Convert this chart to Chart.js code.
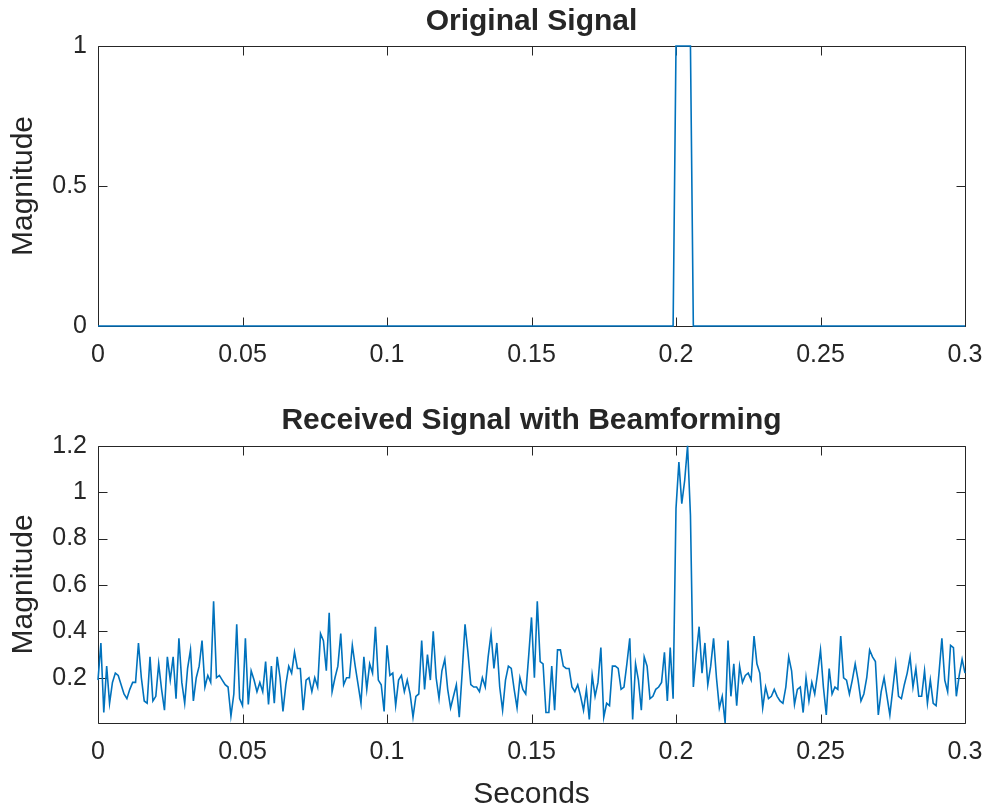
<!DOCTYPE html>
<html><head><meta charset="utf-8">
<script src="https://cdn.jsdelivr.net/npm/chart.js@4.4.1/dist/chart.umd.min.js"></script>
<style>
html,body{margin:0;padding:0;background:#fff;width:986px;height:808px;overflow:hidden;}
canvas{position:absolute;left:0;}
#topChart{top:0;}
#bottomChart{top:380px;}
</style></head><body>
<canvas id="topChart" width="986" height="380"></canvas>
<canvas id="bottomChart" width="986" height="428"></canvas>
<script>
// ---- data ----
const originalTimes = [0, 0.199, 0.200, 0.205, 0.206, 0.3];
const originalMagnitude = [0, 0, 1, 1, 0, 0];

const samplePeriod = 0.001; // seconds between received samples
const receivedMagnitude = [
  0.19,0.35,0.05,0.25,0.09,0.18,0.22,0.21,0.17,0.13,
  0.11,0.15,0.18,0.18,0.35,0.20,0.10,0.09,0.29,0.10,
  0.12,0.26,0.15,0.06,0.29,0.19,0.29,0.11,0.37,0.18,
  0.09,0.24,0.32,0.10,0.20,0.25,0.36,0.16,0.21,0.18,
  0.53,0.20,0.21,0.19,0.17,0.16,0.035,0.13,0.43,0.11,
  0.08,0.37,0.085,0.23,0.19,0.14,0.18,0.14,0.27,0.085,
  0.25,0.09,0.29,0.20,0.055,0.17,0.25,0.22,0.31,0.24,
  0.24,0.06,0.19,0.20,0.14,0.20,0.16,0.39,0.36,0.23,
  0.48,0.14,0.20,0.25,0.39,0.17,0.20,0.20,0.34,0.25,
  0.17,0.09,0.29,0.15,0.26,0.22,0.42,0.19,0.17,0.055,
  0.34,0.21,0.22,0.08,0.19,0.21,0.14,0.19,0.13,0.03,
  0.12,0.13,0.36,0.15,0.30,0.19,0.40,0.20,0.11,0.23,
  0.28,0.15,0.07,0.12,0.17,0.03,0.22,0.43,0.31,0.17,
  0.16,0.16,0.14,0.20,0.16,0.29,0.39,0.24,0.35,0.16,
  0.06,0.19,0.25,0.24,0.15,0.07,0.20,0.15,0.13,0.29,
  0.46,0.20,0.53,0.27,0.26,0.05,0.05,0.25,0.06,0.32,
  0.32,0.25,0.24,0.24,0.16,0.14,0.17,0.12,0.06,0.15,
  0.02,0.21,0.12,0.18,0.33,0.03,0.09,0.08,0.25,0.25,
  0.24,0.15,0.16,0.26,0.37,0.02,0.26,0.19,0.06,0.29,
  0.25,0.11,0.12,0.15,0.16,0.18,0.31,0.10,0.33,0.11,
  0.93,1.13,0.95,1.05,1.20,0.90,0.16,0.30,0.42,0.22,
  0.35,0.17,0.25,0.37,0.20,0.07,0.12,0.005,0.36,0.12,
  0.26,0.08,0.25,0.18,0.21,0.22,0.19,0.38,0.26,0.22,
  0.07,0.16,0.11,0.12,0.15,0.12,0.10,0.09,0.16,0.29,
  0.23,0.085,0.15,0.16,0.05,0.20,0.10,0.18,0.13,0.22,
  0.32,0.16,0.04,0.24,0.13,0.16,0.15,0.38,0.20,0.19,
  0.13,0.19,0.26,0.19,0.10,0.13,0.20,0.32,0.29,0.27,
  0.04,0.14,0.20,0.12,0.04,0.15,0.26,0.12,0.11,0.17,
  0.22,0.29,0.16,0.24,0.12,0.12,0.23,0.09,0.19,0.09,
  0.08,0.22,0.37,0.19,0.14,0.34,0.33,0.12,0.21,0.28,
  0.22
];

const xTickValues = [0, 0.05, 0.1, 0.15, 0.2, 0.25, 0.3];
const xTickLabels = ['0', '0.05', '0.1', '0.15', '0.2', '0.25', '0.3'];
const topYTickValues = [0, 0.5, 1];
const topYTickLabels = ['0', '0.5', '1'];
const bottomYTickValues = [0.2, 0.4, 0.6, 0.8, 1, 1.2];
const bottomYTickLabels = ['0.2', '0.4', '0.6', '0.8', '1', '1.2'];
const topTitle = 'Original Signal';
const bottomTitle = 'Received Signal with Beamforming';
const yAxisLabel = 'Magnitude';
const xAxisLabel = 'Seconds';

// ---- styling ----
const FONT = '"Liberation Sans", Arial, Helvetica, sans-serif';
const AXIS_COLOR = '#262626';
const LINE_COLOR = '#0072BD';
const TICK_LEN = 9;

const boxPlugin = {
  id: 'matlabBox',
  beforeDatasetsDraw(chart) {
    const {ctx, chartArea: a, scales} = chart;
    const c = v => Math.round(v) + 0.5;
    const L = c(a.left), R = c(a.right), T = c(a.top), B = c(a.bottom);
    ctx.save();
    ctx.strokeStyle = AXIS_COLOR;
    ctx.lineWidth = 1;
    ctx.beginPath();
    ctx.rect(L, T, R - L, B - T);
    for (const t of scales.x.ticks) {
      const px = c(scales.x.getPixelForValue(t.value));
      ctx.moveTo(px, B); ctx.lineTo(px, B - TICK_LEN);
      ctx.moveTo(px, T); ctx.lineTo(px, T + TICK_LEN);
    }
    for (const t of scales.y.ticks) {
      const py = c(scales.y.getPixelForValue(t.value));
      ctx.moveTo(L, py); ctx.lineTo(L + TICK_LEN, py);
      ctx.moveTo(R, py); ctx.lineTo(R - TICK_LEN, py);
    }
    ctx.stroke();
    ctx.restore();
  }
};

function makeChart(canvasId, points, cfg) {
  return new Chart(document.getElementById(canvasId), {
    type: 'line',
    data: {
      datasets: [{
        data: points,
        borderColor: LINE_COLOR,
        borderWidth: 1.6,
        pointRadius: 0,
        tension: 0,
        fill: false,
        clip: false
      }]
    },
    options: {
      responsive: false,
      animation: false,
      events: [],
      layout: {padding: {left: 0, right: 21, top: 0, bottom: 0}},
      plugins: {
        legend: {display: false},
        tooltip: {enabled: false},
        title: {
          display: true,
          fullSize: false,
          text: cfg.title,
          color: AXIS_COLOR,
          font: {family: FONT, size: 30, weight: 'bold', lineHeight: 1.2},
          padding: cfg.titlePadding
        }
      },
      scales: {
        x: {
          type: 'linear',
          min: 0, max: 0.3,
          grid: {display: false, drawTicks: false},
          border: {display: false},
          afterBuildTicks: s => { s.ticks = xTickValues.map(v => ({value: v})); },
          afterFit: s => { s.height = cfg.xHeight; s.paddingLeft = 0; s.paddingRight = 0; },
          ticks: {
            color: AXIS_COLOR,
            font: {family: FONT, size: 25, lineHeight: 1.2},
            padding: 14,
            maxRotation: 0, minRotation: 0, autoSkip: false,
            callback: (v, i) => xTickLabels[i]
          },
          title: cfg.xTitle ? {
            display: true,
            text: cfg.xTitle,
            color: AXIS_COLOR,
            font: {family: FONT, size: 30, lineHeight: 0.9},
            padding: {top: 0, bottom: 0}
          } : {display: false}
        },
        y: {
          type: 'linear',
          min: cfg.yMin, max: cfg.yMax,
          grid: {display: false, drawTicks: false},
          border: {display: false},
          afterBuildTicks: s => { s.ticks = cfg.yTicks.map(v => ({value: v})); },
          afterFit: s => { s.width = 98; s.paddingTop = 0; s.paddingBottom = 0; },
          ticks: {
            color: AXIS_COLOR,
            font: {family: FONT, size: 25, lineHeight: 1.2},
            padding: 11,
            autoSkip: false,
            callback: (v, i) => cfg.yLabels[i]
          },
          title: {
            display: true,
            text: yAxisLabel,
            color: AXIS_COLOR,
            font: {family: FONT, size: 30, lineHeight: 1.2},
            padding: {top: 6, bottom: 0}
          }
        }
      }
    },
    plugins: [boxPlugin]
  });
}

const topPoints = originalTimes.map((t, i) => ({x: t, y: originalMagnitude[i]}));
const bottomPoints = receivedMagnitude.map((v, i) => ({x: i * samplePeriod, y: v}));

makeChart('topChart', topPoints, {
  title: topTitle,
  titlePadding: {top: 4, bottom: 6},
  xHeight: 54,
  yMin: 0, yMax: 1,
  yTicks: topYTickValues, yLabels: topYTickLabels
});

makeChart('bottomChart', bottomPoints, {
  title: bottomTitle,
  titlePadding: {top: 23, bottom: 6.7},
  xHeight: 85,
  xTitle: xAxisLabel,
  yMin: 0.005, yMax: 1.2,
  yTicks: bottomYTickValues, yLabels: bottomYTickLabels
});
</script>
</body></html>
